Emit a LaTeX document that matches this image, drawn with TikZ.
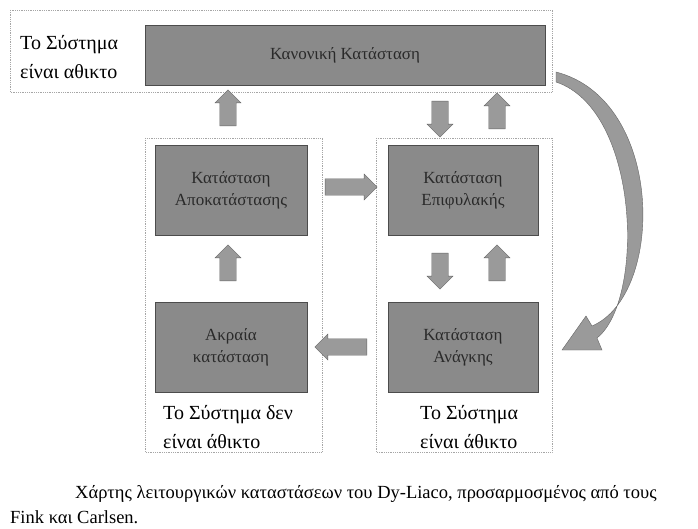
\documentclass[tikz,border=0pt]{standalone}
\usepackage{fontspec}
\setmainfont{Liberation Serif}
\usetikzlibrary{shapes.arrows}
\definecolor{boxg}{HTML}{8A8A8A}
\definecolor{arrg}{HTML}{9A9A9A}
\definecolor{txt}{HTML}{2A2A2A}
\begin{document}
\begin{tikzpicture}[x=1pt,y=-1pt,
  frame/.style={draw=gray!70,densely dotted,line width=0.8pt},
  state/.style={draw=black!70,fill=boxg,text=txt,font=\fontsize{17}{22}\selectfont,align=center,inner sep=0pt},
  lbl/.style={font=\fontsize{20}{29}\selectfont,align=left,anchor=west,inner sep=0pt},
  barrow/.style={single arrow,draw=black!60,fill=arrg,minimum height=36pt,minimum width=26pt,single arrow head extend=3pt,inner sep=5pt}]
\useasboundingbox (0,0) rectangle (698,529);
\fill[white] (0,0) rectangle (698,529);
% frames
\draw[frame] (10,10) rectangle (552,92);
\draw[frame] (145,138) rectangle (322,452);
\draw[frame] (376,138) rectangle (552,452);
% states
\node[state,minimum width=400pt,minimum height=60pt] (norm) at (345,55) {Κανονική Κατάσταση};
\node[state,minimum width=152pt,minimum height=90pt] (rest) at (231,190) {Κατάσταση\\Αποκατάστασης};
\node[state,minimum width=150pt,minimum height=90pt] (alert) at (463,190) {Κατάσταση\\Επιφυλακής};
\node[state,minimum width=152pt,minimum height=90pt] (extr) at (231,347) {Ακραία\\κατάσταση};
\node[state,minimum width=150pt,minimum height=90pt] (emer) at (463,347) {Κατάσταση\\Ανάγκης};
% labels
\node[lbl] (l1) at (20,57) {Το Σύστημα\\είναι αθικτο};
\node[lbl] (l2) at (163,427) {Το Σύστημα δεν\\είναι άθικτο};
\node[lbl] (l3) at (420,427) {Το Σύστημα\\είναι άθικτο};
% block arrows
\node[barrow,rotate=90] (a1) at (228,112) {};
\node[barrow,rotate=-90] (a2) at (440,115) {};
\node[barrow,rotate=90] (a3) at (497,115) {};
\node[barrow,minimum height=52pt] (a4) at (347,187) {};
\node[barrow,rotate=-90] (a5) at (440,267) {};
\node[barrow,rotate=90] (a6) at (497,267) {};
\node[barrow,rotate=90] (a7) at (228,267) {};
\node[barrow,rotate=180,minimum height=52pt] (a8) at (345,347) {};
% curved arrow
\fill[arrg,draw=black!60] (556,72) .. controls (665,100) and (665,295) .. (592,326) -- (586,316) -- (562,350) -- (602,350) -- (597,338) .. controls (645,300) and (640,110) .. (556,82) -- cycle;
% caption
\node[anchor=west,inner sep=0pt,font=\fontsize{18.5}{22}\selectfont] (cap1) at (75,494) {Χάρτης λειτουργικών καταστάσεων του Dy-Liaco, προσαρμοσμένος από τους};
\node[anchor=west,inner sep=0pt,font=\fontsize{18.5}{22}\selectfont] (cap2) at (10,517) {Fink και Carlsen.};
\end{tikzpicture}
\end{document}
